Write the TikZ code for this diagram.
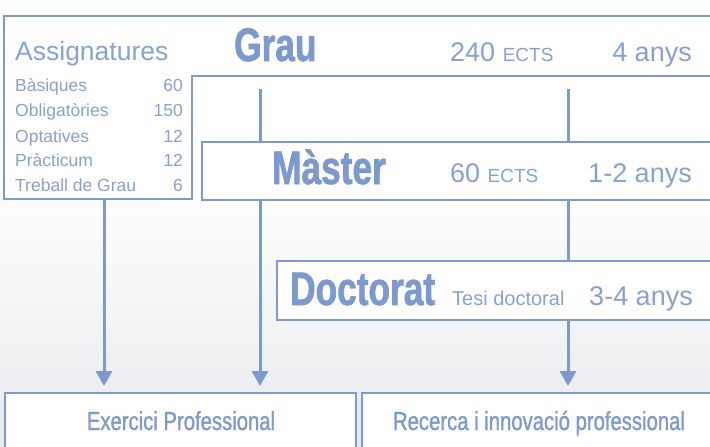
\documentclass[tikz,border=0pt]{standalone}
\usepackage{fontspec}
\setmainfont{Liberation Sans}
\newfontfamily\condfont[FakeStretch=0.75,FakeBold=1.4]{Liberation Sans}
\newfontfamily\condreg[FakeStretch=0.78,FakeBold=1.1]{Liberation Sans}
\usetikzlibrary{arrows.meta}

\definecolor{uniblue}{RGB}{124,154,207}
\definecolor{softblue}{RGB}{136,161,213}
\definecolor{hazegray}{RGB}{231,233,236}

\tikzset{
  frameline/.style={draw=uniblue, line width=2pt},
  panel/.style={frameline, fill=white, inner sep=0pt, anchor=north west},
  flow/.style={draw=uniblue, line width=3pt, shorten >=6pt,
    -{Triangle[width=16pt,length=15pt]}},
  title/.style={font=\condfont\bfseries\fontsize{47}{47}\selectfont,
    text=uniblue, inner sep=0pt, anchor=base west},
  info/.style={font=\fontsize{27}{27}\selectfont, text=softblue,
    inner sep=0pt},
  small/.style={font=\fontsize{17.5}{17.5}\selectfont, text=softblue,
    inner sep=0pt},
  outcome/.style={font=\condreg\fontsize{26}{26}\selectfont, text=uniblue,
    inner sep=0pt, anchor=base},
}

\begin{document}
\begin{tikzpicture}[x=1pt,y=-1pt]
  \useasboundingbox (0,0) rectangle (710,447);
  \clip (0,0) rectangle (710,447);

  % backdrop: white above, hazy grey below
  \fill[white] (0,0) rectangle (710,447);
  \shade[top color=white, bottom color=hazegray] (0,185) rectangle (710,447);
  \fill[hazegray] (0,400) rectangle (710,447);

  % Grau frame with the subject panel hanging below it
  \draw[frameline, fill=white]
    (4,16) -- (720,16) -- (720,76) -- (192,76) -- (192,199) -- (4,199) -- cycle;

  \node[info, font=\fontsize{26.5}{26.5}\selectfont, anchor=base west]
    (assig) at (15,60) {Assignatures};
  \foreach \name/\credits/\y [count=\i] in
      {Bàsiques/60/91, Obligatòries/150/116.5, Optatives/12/142,
       Pràcticum/12/166.5, Treball de Grau/6/191} {
    \node[small, anchor=base west] (subj\i) at (15,\y) {\name};
    \node[small, anchor=base east] (cred\i) at (183,\y) {\credits};
  }

  \node[title] (grau) at (234,61) {Grau};
  \node[info, anchor=base west] (grauects) at (450,61.5)
    {240 {\fontsize{19}{19}\selectfont ECTS}};
  \node[info, anchor=base east] (grauyears) at (692,61.5) {4 anys};

  % outcomes
  \node[panel, minimum width=351pt, minimum height=70pt] (exer) at (4,392) {};
  \node[panel, minimum width=360pt, minimum height=70pt] (rec) at (361,392) {};
  \node[outcome] (exertext) at (181,430) {Exercici Professional};
  \node[outcome] (rectext) at (539,430) {Recerca i innovació professional};

  % routes from the degree levels to the outcomes
  \coordinate (assigfoot) at (104,199);
  \coordinate (grauleft) at (260,89);
  \coordinate (grauright) at (568,89);
  \draw[flow] (assigfoot) -- (assigfoot |- exer.north);
  \draw[flow] (grauleft) -- (grauleft |- exer.north);
  \draw[flow] (grauright) -- (grauright |- rec.north);

  % Master and Doctorat panels sit over the routes
  \node[panel, minimum width=520pt, minimum height=58pt] (master) at (201,141) {};
  \node[title] (mastertitle) at (272,184) {Màster};
  \node[info, anchor=base west] (masterects) at (450,182)
    {60 {\fontsize{19}{19}\selectfont ECTS}};
  \node[info, anchor=base east] (masteryears) at (692,182) {1-2 anys};

  \node[panel, minimum width=445pt, minimum height=59pt] (doct) at (276,260) {};
  \node[title] (docttitle) at (290,305) {Doctorat};
  \node[info, font=\fontsize{20}{20}\selectfont, anchor=base west]
    (thesis) at (452,305) {Tesi doctoral};
  \node[info, anchor=base east] (doctyears) at (693,305) {3-4 anys};
\end{tikzpicture}
\end{document}
